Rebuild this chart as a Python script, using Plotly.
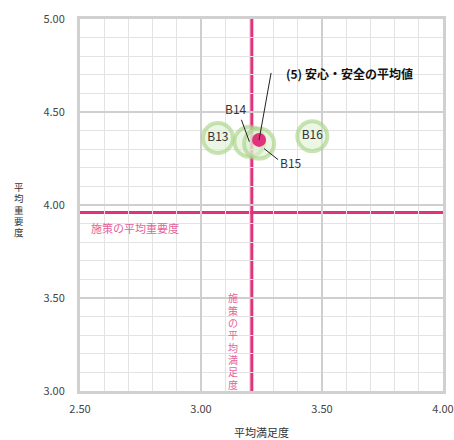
import plotly.graph_objects as go

# 施策ごとの平均満足度・平均重要度
codes = ["B13", "B14", "B15", "B16"]
satisfaction = [3.07, 3.20, 3.24, 3.46]
importance = [4.36, 4.34, 4.33, 4.37]

# 分野（5）の平均値
group_label = "(5) 安心・安全の平均値"
group_satisfaction = 3.24
group_importance = 4.35

# 全施策の平均値
mean_satisfaction = 3.21
mean_importance = 3.96

x_ticks = [2.5, 3.0, 3.5, 4.0]
y_ticks = [3.0, 3.5, 4.0, 4.5, 5.0]

FONT = "Noto Sans CJK JP"
PINK = "#e0337c"
PINK_TEXT = "#e4629c"
DARK = "#333333"

fig = go.Figure()

# 施策のバブル（B14・B15 は引き出し線でラベル表示）
inline_text = [c if c in ("B13", "B16") else "" for c in codes]
fig.add_trace(go.Scatter(
    x=satisfaction, y=importance, mode="markers+text",
    text=inline_text, textposition="middle center",
    textfont=dict(family=FONT, size=12, color=DARK),
    marker=dict(size=30, color="rgba(218,238,205,0.55)",
                line=dict(color="rgba(165,210,130,0.6)", width=4)),
    hoverinfo="skip", showlegend=False,
))

# 分野平均の点
fig.add_trace(go.Scatter(
    x=[group_satisfaction], y=[group_importance], mode="markers",
    marker=dict(size=14, color=PINK),
    hoverinfo="skip", showlegend=False,
))

# 平均線
fig.add_shape(type="line", xref="x", yref="paper",
              x0=mean_satisfaction, x1=mean_satisfaction, y0=0, y1=1,
              line=dict(color=PINK, width=3), layer="between")
fig.add_shape(type="line", xref="paper", yref="y",
              x0=0, x1=1, y0=mean_importance, y1=mean_importance,
              line=dict(color=PINK, width=3), layer="between")


def leader(px, py, dx0, dy0, dx1, dy1):
    """Thin leader line anchored at a data point, offsets in pixels (y up)."""
    fig.add_shape(type="line", xref="x", yref="y",
                  xsizemode="pixel", ysizemode="pixel",
                  xanchor=px, yanchor=py,
                  x0=dx0, y0=dy0, x1=dx1, y1=dy1,
                  line=dict(color="#222222", width=1), layer="above")


leader(group_satisfaction, group_importance, 0, 0, 12, 67)
leader(satisfaction[1], importance[1], 0, 0, -8, 22)
leader(satisfaction[2], importance[2], 5, -5, 19, -16)

annotations = [
    dict(x=group_satisfaction, y=group_importance, xref="x", yref="y",
         text="<b>" + group_label + "</b>", showarrow=False,
         xanchor="left", yanchor="middle", xshift=25, yshift=66,
         font=dict(family=FONT, size=12, color="#111111")),
    dict(x=satisfaction[1], y=importance[1], xref="x", yref="y",
         text=codes[1], showarrow=False, xshift=-13, yshift=33,
         font=dict(family=FONT, size=12, color=DARK)),
    dict(x=satisfaction[2], y=importance[2], xref="x", yref="y",
         text=codes[2], showarrow=False, xshift=32, yshift=-19,
         font=dict(family=FONT, size=12, color=DARK)),
    # 平均重要度のラベル
    dict(x=0, y=mean_importance, xref="paper", yref="y",
         text="施策の平均重要度", showarrow=False,
         xanchor="left", yanchor="middle", xshift=9, yshift=-16,
         font=dict(family=FONT, size=11, color=PINK_TEXT)),
    # x 軸タイトル
    dict(x=0.5, y=0, xref="paper", yref="paper",
         text="平均満足度", showarrow=False,
         xanchor="center", yanchor="middle", yshift=-41,
         font=dict(family=FONT, size=11, color=DARK)),
]

# 縦書きラベル（平均満足度の線）: 一文字ずつ下から積み上げ
v_label = "施策の平均満足度"
for i, ch in enumerate(reversed(v_label)):
    annotations.append(dict(
        x=mean_satisfaction, y=0, xref="x", yref="paper",
        text=ch, showarrow=False, xanchor="center", yanchor="middle",
        xshift=-19, yshift=7 + i * 12.3,
        font=dict(family=FONT, size=10, color=PINK_TEXT)))

# 縦書きの y 軸タイトル
y_title = "平均重要度"
for i, ch in enumerate(y_title):
    annotations.append(dict(
        x=0, y=1, xref="paper", yref="paper",
        text=ch, showarrow=False, xanchor="center", yanchor="middle",
        xshift=-61, yshift=-(168 + i * 11.3),
        font=dict(family=FONT, size=9.5, color=DARK)))

axis_common = dict(
    showline=True, mirror=True, linewidth=3, linecolor="#d0d0d0",
    showgrid=True, gridcolor="#cfcfcf", gridwidth=2,
    zeroline=False, tickformat=".2f", ticks="", automargin=False,
    tickfont=dict(family=FONT, size=11, color="#444444"),
    minor=dict(dtick=0.1, showgrid=True, gridcolor="#e3e3e3", gridwidth=1),
)

fig.update_layout(
    width=454, height=440,
    margin=dict(l=80, r=11, t=19, b=49),
    paper_bgcolor="white", plot_bgcolor="white",
    xaxis=dict(range=[2.5, 4.0], tickvals=x_ticks, ticklabelstandoff=6, **axis_common),
    yaxis=dict(range=[3.0, 5.0], tickvals=y_ticks, ticklabelstandoff=10, **axis_common),
    annotations=annotations,
)

fig.write_html("out.html")
